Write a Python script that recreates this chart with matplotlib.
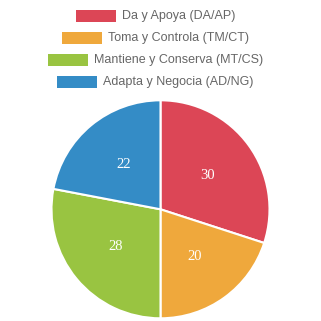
import matplotlib
matplotlib.use("Agg")
import matplotlib.pyplot as plt
from matplotlib.patches import Rectangle

labels = ["Da y Apoya (DA/AP)", "Toma y Controla (TM/CT)",
          "Mantiene y Conserva (MT/CS)", "Adapta y Negocia (AD/NG)"]
values = [30, 20, 28, 22]
colors = ["#dc4656", "#efa83c", "#99c441", "#348cc6"]

W = H = 321
fig = plt.figure(figsize=(W / 100, H / 100), dpi=100)
ax = fig.add_axes([0, 0, 1, 1])

# pie (pixel coordinates, y measured from bottom)
wedges, texts = ax.pie(
    values, colors=colors, startangle=90, counterclock=False,
    center=(160.5, H - 209.3), radius=109, frame=True,
    labels=[str(v) for v in values], labeldistance=0.53,
    wedgeprops=dict(edgecolor="white", linewidth=1.5),
    textprops=dict(color="white", fontsize=10.5, family="Liberation Serif"),
)
for t in texts:
    t.set_ha("center")
    t.set_va("center")
ax.set_xlim(0, W)
ax.set_ylim(0, H)
ax.set_aspect("equal")
ax.axis("off")

# legend, each row centered on its own
fig.canvas.draw()
renderer = fig.canvas.get_renderer()
row_y = [15.8, 37.8, 60, 82]
cx = 155.5
box_w, box_h, gap = 40, 12, 6
for lab, col, y in zip(labels, colors, row_y):
    t = ax.text(0, H - y, lab, fontsize=9, color="#666666",
                family="Liberation Sans", va="center", ha="left")
    tw = t.get_window_extent(renderer).width
    left = cx - (box_w + gap + tw) / 2
    ax.add_patch(Rectangle((left, H - y - box_h / 2), box_w, box_h,
                           facecolor=col, edgecolor="none"))
    t.set_x(left + box_w + gap)

fig.savefig("out.png", dpi=100)
